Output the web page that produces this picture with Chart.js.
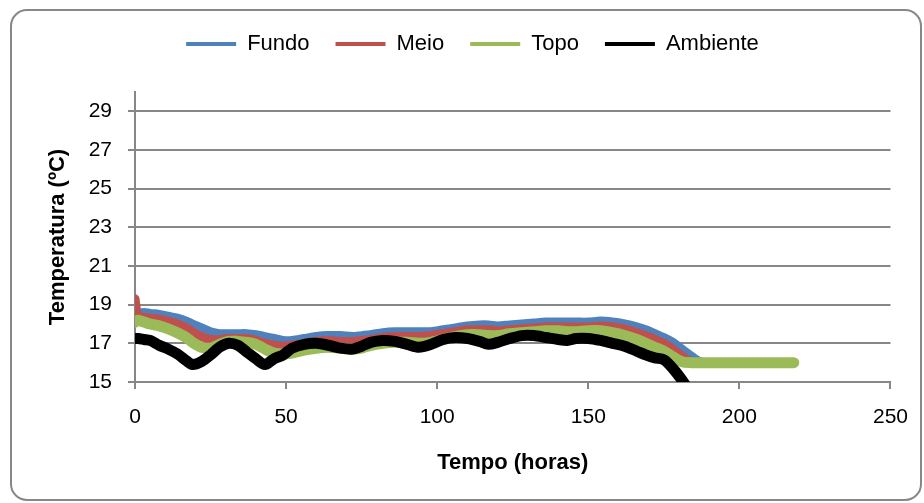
<!DOCTYPE html>
<html>
<head>
<meta charset="utf-8">
<script src="https://cdn.jsdelivr.net/npm/chart.js@4.4.0/dist/chart.umd.min.js"></script>
<style>
  html, body { margin: 0; padding: 0; background: #fff; }
  #wrap { width: 924px; height: 503px; }
</style>
</head>
<body>
<div id="wrap"><canvas id="tempChart" width="924" height="503"></canvas></div>
<script>
// tempo em horas (comum a todas as séries)
const horas = [0, 1, 3, 5, 8, 11, 14, 17, 19, 22, 25, 28, 31, 34, 37, 40, 43, 46, 49, 52,
  56, 60, 64, 68, 72, 75, 78, 82, 86, 90, 94, 98, 102, 106, 110, 114, 117, 120, 124, 128,
  132, 136, 140, 143, 146, 150, 154, 158, 162, 166, 169, 172, 175, 178, 181, 184, 187, 190, 200, 210, 218];

const fundo = [18.5, 18.55, 18.6, 18.55, 18.5, 18.4, 18.3, 18.15, 18.0, 17.8,
  17.6, 17.5, 17.5, 17.5, 17.5, 17.45, 17.35, 17.25, 17.15, 17.15,
  17.25, 17.35, 17.4, 17.4, 17.35, 17.4, 17.45, 17.55, 17.6, 17.6,
  17.6, 17.6, 17.7, 17.8, 17.9, 17.95, 17.95, 17.9, 17.95, 18.0,
  18.05, 18.1, 18.1, 18.1, 18.1, 18.1, 18.15, 18.1, 18.0, 17.85,
  17.7, 17.5, 17.3, 17.05, 16.7, 16.35, 16.05, 16.0, 16.0, 16.0, 16.0];

const meio = [19.3, 18.4, 18.35, 18.3, 18.25, 18.15, 18.0, 17.8, 17.6, 17.35,
  17.2, 17.2, 17.25, 17.25, 17.25, 17.15, 17.0, 16.9, 16.85, 16.9,
  17.0, 17.1, 17.15, 17.1, 17.1, 17.15, 17.2, 17.3, 17.35, 17.35,
  17.35, 17.4, 17.5, 17.6, 17.7, 17.7, 17.7, 17.65, 17.7, 17.75,
  17.8, 17.85, 17.85, 17.85, 17.85, 17.85, 17.9, 17.85, 17.75, 17.55,
  17.4, 17.2, 17.0, 16.7, 16.35, 16.05, 16.0, 16.0, 16.0, 16.0, 16.0];

const topo = [18.1, 18.2, 18.1, 18.0, 17.9, 17.75, 17.55, 17.3, 17.05, 16.8,
  16.75, 16.95, 17.1, 17.1, 17.05, 16.95, 16.7, 16.5, 16.45, 16.5,
  16.65, 16.75, 16.8, 16.75, 16.7, 16.75, 16.9, 17.0, 17.05, 17.05,
  17.0, 17.05, 17.2, 17.35, 17.45, 17.45, 17.4, 17.4, 17.5, 17.55,
  17.6, 17.65, 17.65, 17.6, 17.6, 17.65, 17.65, 17.55, 17.4, 17.2,
  17.0, 16.8, 16.6, 16.3, 16.05, 16.0, 16.0, 16.0, 16.0, 16.0, 16.0];

const ambiente = [17.25, 17.25, 17.2, 17.15, 16.9, 16.7, 16.45, 16.1, 15.9, 16.05,
  16.4, 16.8, 17.0, 16.9, 16.55, 16.2, 15.9, 16.2, 16.4, 16.75,
  16.95, 17.0, 16.9, 16.75, 16.7, 16.85, 17.05, 17.15, 17.1, 16.95,
  16.8, 16.95, 17.2, 17.3, 17.25, 17.1, 16.95, 17.05, 17.25, 17.4,
  17.4, 17.3, 17.2, 17.15, 17.25, 17.25, 17.15, 17.0, 16.85, 16.6,
  16.4, 16.25, 16.15, 15.7, 15.1, 14.4, null, null, null, null, null];

const xTicks = [0, 50, 100, 150, 200, 250];
const yTicks = [15, 17, 19, 21, 23, 25, 27, 29];

const cinza = '#878787';
const pontos = arr => horas.map((h, i) => ({ x: h, y: arr[i] }));

Chart.defaults.font.family = '"Liberation Sans", Arial, sans-serif';
Chart.defaults.color = '#000';

// moldura arredondada à volta do gráfico
const moldura = {
  id: 'moldura',
  beforeDraw(chart) {
    const ctx = chart.ctx;
    ctx.save();
    ctx.strokeStyle = cinza;
    ctx.lineWidth = 2;
    ctx.beginPath();
    ctx.roundRect(11, 10, 910, 490, 16);
    ctx.stroke();
    ctx.restore();
  }
};

// altura fixa da legenda
const alturaLegenda = {
  id: 'alturaLegenda',
  beforeUpdate(chart) {
    const leg = chart.legend;
    if (leg && !leg._fixed) {
      const fitOrig = leg.fit;
      leg.fit = function () { fitOrig.call(this); this.height = 85; };
      leg._fixed = true;
    }
  }
};

function serie(label, arr, cor, largura, ordem) {
  return {
    label: label,
    data: pontos(arr),
    borderColor: cor,
    backgroundColor: cor,
    borderWidth: largura,
    pointRadius: 0,
    tension: 0.3,
    borderCapStyle: 'round',
    borderJoinStyle: 'round',
    order: ordem
  };
}

new Chart(document.getElementById('tempChart'), {
  type: 'line',
  data: {
    datasets: [
      serie('Fundo', fundo, '#4F81BD', 9, 4),
      serie('Meio', meio, '#C0504D', 9, 3),
      serie('Topo', topo, '#9BBB59', 11, 2),
      serie('Ambiente', ambiente, '#000000', 11, 1)
    ]
  },
  options: {
    responsive: false,
    animation: false,
    layout: { padding: { top: 7, left: 40, right: 19, bottom: 13 } },
    plugins: {
      tooltip: { enabled: false },
      legend: {
        position: 'top',
        labels: {
          usePointStyle: true,
          pointStyle: 'line',
          pointStyleWidth: 50,
          padding: 26,
          font: { size: 22 },
          sort: (a, b) => a.datasetIndex - b.datasetIndex,
          generateLabels: chart => Chart.defaults.plugins.legend.labels.generateLabels(chart)
            .map(l => Object.assign(l, { lineWidth: 4, lineCap: 'butt' }))
        }
      }
    },
    scales: {
      x: {
        type: 'linear',
        min: 0,
        max: 250,
        afterBuildTicks: s => { s.ticks = xTicks.map(v => ({ value: v })); },
        afterFit: s => { s.height = 108; },
        grid: { drawOnChartArea: false, drawTicks: true, tickLength: 7, color: cinza, lineWidth: 2 },
        border: { color: cinza, width: 2 },
        ticks: { padding: 16, font: { size: 21 }, maxRotation: 0 },
        title: { display: true, text: 'Tempo (horas)', font: { size: 22, weight: 'bold' }, padding: { top: 0, bottom: 14 } }
      },
      y: {
        min: 15,
        max: 30,
        afterBuildTicks: s => { s.ticks = yTicks.map(v => ({ value: v })); },
        afterFit: s => { s.width = 95; },
        grid: { color: cinza, lineWidth: 2, tickLength: 7 },
        border: { color: cinza, width: 2 },
        ticks: { padding: 16, font: { size: 21 } },
        title: { display: true, text: 'Temperatura (ºC)', font: { size: 22, weight: 'bold' }, padding: { top: 5, bottom: 0 } }
      }
    }
  },
  plugins: [moldura, alturaLegenda]
});
</script>
</body>
</html>
